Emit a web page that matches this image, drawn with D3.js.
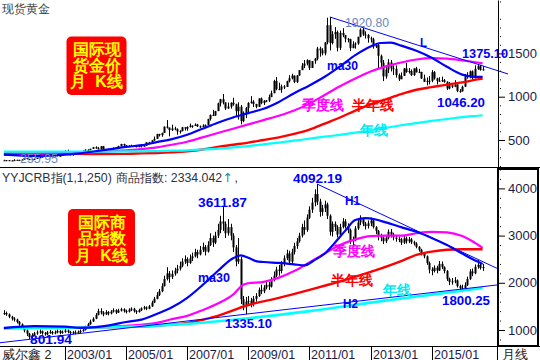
<!DOCTYPE html>
<html><head><meta charset="utf-8">
<script src="https://cdn.jsdelivr.net/npm/d3@7/dist/d3.min.js"></script>
<style>body{margin:0;background:#fff}svg{display:block}text{font-family:"Liberation Sans",Arial,sans-serif}</style>
</head><body>
<svg id="c" width="540" height="360"></svg>
<script>
// ---------- DATA ----------
const startYear = 2001, monthCount = 189;
const months = d3.range(monthCount).map(i => `${startYear + Math.floor(i / 12)}/${String(i % 12 + 1).padStart(2, "0")}`);
const tickLabels = ["2003/01", "2005/01", "2007/01", "2009/01", "2011/01", "2013/01", "2015/01"];

// Spot gold, monthly
const goldClose = [
265.6,266.7,257.7,263.2,267.5,270.6,265.9,273.0,293.1,278.8,275.5,276.5,
282.3,296.9,301.4,308.2,326.6,318.5,304.7,312.8,323.7,316.9,317.1,347.2,
367.5,347.5,334.9,336.8,361.4,346.0,354.8,375.6,388.0,386.3,398.4,416.3,
402.8,396.8,427.3,388.5,393.3,395.8,391.4,408.3,415.7,428.3,453.4,438.0,
422.2,434.0,428.9,435.7,417.3,437.1,429.0,433.3,473.3,470.8,495.7,513.0,
568.8,556.0,582.0,654.5,643.0,613.5,632.5,623.5,599.3,603.8,646.7,632.0,
650.5,665.3,661.8,677.0,657.5,650.5,665.5,672.0,743.0,789.5,783.5,833.8,
923.3,971.5,933.5,864.5,885.8,930.3,912.5,833.0,884.5,718.5,814.5,869.8,
927.3,942.0,916.5,883.3,979.5,926.0,954.0,955.5,995.8,1040.0,1182.0,1087.5,
1083.0,1118.3,1113.3,1179.3,1212.5,1244.0,1169.0,1246.0,1307.0,1357.0,1383.5,1421.0,
1332,1411,1439,1556,1536,1500,1628,1826,1620,1722,1746,1565,
1737,1710,1669,1664,1561,1604,1614,1692,1776,1719,1713,1675,
1663,1578,1597,1472,1393,1234,1313,1396,1327,1323,1250,1202,
1240,1326,1284,1296,1250,1327,1282,1287,1210,1171,1182,1184,
1283,1212,1183,1184,1190,1172,1095,1134,1115,1142,1065,1061,
1116,1238,1233,1293,1215,1322,1351,1309,1316];
const goldHigh = [
272,268,268,264,278,272,271,278,294,293,282,280,
284,299,304,311,328,331,327,314,326,326,324,349,
383,389,352,340,372,366,367,378,391,392,399,417,
427,419,429,431,396,397,408,416,419,434,456,457,
442,439,446,438,436,442,431,449,474,479,497,540,
572,571,584,654,730,634,677,653,634,613,651,648,
657,690,669,692,686,667,682,679,745,795,848,837,
931,975,1032,931,932,934,988,919,935,904,830,881,
937,1006,960,917,981,990,960,961,1024,1070,1195,1227,
1162,1140,1134,1184,1249,1265,1244,1250,1308,1388,1424,1432,
1424,1411,1448,1576,1577,1560,1632,1912,1920.8,1757,1804,1764,
1764,1791,1714,1677,1670,1640,1628,1692,1790,1796,1755,1723,
1694,1681,1617,1611,1487,1424,1347,1434,1424,1361,1361,1268,
1280,1332,1392,1331,1315,1326,1345,1322,1287,1255,1222,1238,
1307,1296,1219,1224,1232,1205,1178,1170,1156,1191,1142,1088,
1127,1263,1283,1303,1304,1362,1375.1,1367,1352];
const goldLow = [
262,258,256,255.95,263,265,264,265,270,277,272,273,
276,281,289,301,306,313,302,300,311,312,316,316,
344,345,321,320,339,342,342,351,368,369,378,397,
399,392,391,371,377,387,388,389,402,411,426,431,
418,418,424,423,415,417,414,426,433,459,460,489,
515,540,537,582,633,542,605,612,560,575,599,609,
607,643,640,661,651,640,648,648,672,724,778,779,
836,887,911,847,861,863,896,774,736,681,705,753,
803,919,880,866,884,913,905,938,939,1003,1044,1075,
1076,1045,1088,1118,1165,1200,1157,1157,1241,1315,1331,1361,
1308,1331,1380,1420,1462,1478,1478,1605,1535,1604,1669,1523,
1540,1688,1628,1628,1527,1564,1555,1600,1686,1703,1672,1625,
1626,1555,1562,1321,1338,1180,1208,1272,1292,1251,1221,1182,
1202,1240,1277,1268,1240,1240,1280,1272,1205,1183,1131,1142,
1167,1197,1142,1175,1170,1162,1077,1085,1099,1111,1053,1046.2,
1061,1111,1208,1212,1199,1208,1310,1301,1302];

// Commodity index (YYJCRB), monthly
const crbClose = [
1360,1330,1280,1240,1220,1170,1120,1060,990,920,850,890,
930,950,970,930,910,950,960,930,950,980,940,960,
990,960,930,950,940,960,980,1000,1060,1120,1180,1240,
1320,1400,1370,1330,1380,1350,1390,1420,1370,1410,1440,1400,
1390,1430,1450,1400,1380,1420,1460,1480,1450,1500,1580,1660,
1740,1820,1930,2080,2200,2120,2190,2260,2300,2360,2450,2500,
2420,2520,2560,2650,2600,2700,2760,2660,2800,2950,2850,3000,
3120,3300,3250,3050,3180,3000,2750,2450,2500,1650,1530,1600,
1620,1560,1660,1720,1850,1820,1900,1960,1920,2060,2150,2280,
2250,2400,2520,2620,2450,2650,2780,2880,3000,3180,3120,3380,
3550,3700,3880,3720,3500,3580,3660,3420,3080,3250,3180,3020,
3180,3300,3200,3120,2880,2900,3150,3280,3350,3250,3200,3260,
3320,3180,3100,2980,2960,2880,2950,3080,3020,2960,2930,2920,
2850,2940,2880,2920,2860,2830,2760,2700,2620,2560,2420,2280,
2250,2320,2260,2400,2330,2250,2080,2020,2030,2050,1930,1890,
1880,1950,2080,2240,2200,2340,2380,2310,2334.042];
const crbHigh = [
1420,1390,1350,1300,1270,1240,1190,1140,1080,1010,940,930,
960,990,1010,990,960,980,1000,980,990,1010,1000,990,
1020,1010,980,980,990,990,1010,1040,1090,1150,1220,1270,
1360,1450,1460,1400,1420,1400,1420,1460,1440,1450,1470,1460,
1430,1460,1480,1470,1420,1450,1480,1510,1500,1530,1620,1700,
1800,1870,1990,2150,2330,2250,2260,2320,2380,2450,2520,2580,
2540,2600,2640,2720,2700,2780,2850,2800,2880,3050,3000,3080,
3250,3420,3611.87,3300,3350,3250,3050,2800,2950,2550,1720,1700,
1720,1680,1720,1780,1900,1960,1950,2050,2020,2120,2240,2340,
2380,2460,2580,2700,2680,2720,2850,2950,3060,3250,3320,3450,
3620,3800,3980,4092.19,3780,3650,3740,3700,3450,3300,3300,3220,
3250,3370,3350,3260,3150,2980,3200,3340,3430,3380,3290,3320,
3380,3360,3200,3120,3040,3000,3000,3130,3140,3060,3000,2980,
2950,2990,2980,2970,2950,2890,2860,2780,2720,2650,2580,2450,
2330,2370,2360,2460,2450,2350,2270,2110,2100,2120,2070,1960,
1960,2010,2130,2290,2300,2390,2480,2420,2400];
const crbLow = [
1320,1300,1250,1200,1180,1140,1090,1020,950,870,801.94,830,
870,900,920,900,880,890,920,900,910,930,910,920,
940,930,900,910,910,920,930,960,990,1050,1110,1170,
1230,1310,1330,1290,1320,1310,1330,1370,1340,1360,1390,1370,
1350,1370,1400,1370,1340,1370,1400,1430,1420,1440,1490,1570,
1650,1720,1800,1920,2050,2000,2080,2150,2200,2260,2330,2400,
2350,2400,2460,2540,2520,2580,2650,2580,2640,2780,2760,2820,
2950,3050,3100,2950,3000,2900,2650,2350,2400,1550,1420,1335.10,
1520,1480,1500,1600,1700,1760,1780,1860,1850,1900,2030,2120,
2150,2200,2350,2480,2380,2420,2600,2720,2850,2960,3020,3080,
3350,3480,3620,3650,3400,3420,3500,3350,3000,2980,3100,2960,
3000,3150,3150,3050,2820,2780,2880,3120,3220,3200,3130,3150,
3200,3150,3030,2900,2880,2820,2840,2920,2960,2900,2870,2860,
2800,2820,2830,2840,2820,2790,2730,2660,2580,2520,2380,2200,
2160,2220,2200,2250,2290,2200,2040,1950,1960,1990,1900,1850,
1800.25,1850,1930,2060,2140,2180,2300,2280,2250];

// Moving-average lines: [month index, value]
const goldMa30 = [[0,330],[12,315],[24,330],[30,345],[36,370],[42,395],[48,420],[54,440],[60,475],[66,510],[72,560],[78,630],[84,700],[90,760],[96,810],[102,860],[108,940],[114,1040],[120,1130],[126,1230],[132,1350],[138,1480],[144,1580],[148,1620],[152,1625],[156,1590],[162,1530],[168,1450],[174,1345],[180,1255],[184,1232],[188,1228]];
const goldMa60 = [[0,330],[12,340],[24,350],[36,360],[42,370],[48,380],[54,395],[60,415],[66,445],[72,480],[78,530],[84,580],[90,630],[96,680],[102,730],[108,780],[114,840],[120,920],[126,1020],[132,1120],[138,1210],[144,1290],[150,1350],[156,1395],[162,1430],[168,1445],[174,1440],[180,1420],[186,1395],[188,1385]];
const goldMa120 = [[0,345],[12,343],[24,340],[36,338],[48,340],[54,345],[60,350],[66,358],[72,370],[78,390],[84,420],[90,445],[96,470],[102,500],[108,530],[114,570],[120,620],[126,690],[132,760],[138,840],[144,910],[150,970],[156,1030],[162,1080],[168,1110],[174,1140],[180,1165],[186,1200],[188,1210]];
const goldMa250 = [[0,365],[24,365],[36,366],[48,368],[60,372],[66,376],[72,381],[78,390],[84,400],[90,414],[96,430],[102,450],[108,470],[114,492],[120,515],[126,538],[132,560],[138,585],[144,610],[150,640],[156,670],[162,695],[168,720],[174,742],[180,765],[186,780],[188,785]];

const crbMa30 = [[0,1040],[12,1080],[24,1070],[30,1045],[36,1060],[42,1105],[48,1170],[54,1220],[60,1340],[66,1480],[72,1680],[78,1950],[84,2250],[90,2520],[93,2580],[96,2530],[99,2460],[102,2440],[108,2420],[114,2390],[118,2370],[122,2480],[126,2620],[130,2850],[134,3100],[138,3330],[142,3370],[146,3340],[150,3280],[156,3180],[162,3080],[168,2950],[174,2800],[180,2620],[186,2450],[188,2400]];
const crbMa60 = [[0,1045],[12,1050],[24,1050],[30,1055],[36,1060],[48,1090],[60,1150],[66,1230],[72,1300],[78,1420],[84,1560],[90,1750],[94,1960],[96,1990],[102,2020],[108,2110],[114,2250],[120,2430],[126,2620],[132,2800],[138,2920],[144,2990],[150,3000],[156,3000],[162,3050],[168,3080],[174,3070],[180,2990],[184,2880],[188,2740]];
const crbMa120 = [[0,1040],[24,1050],[48,1070],[60,1090],[72,1150],[84,1300],[96,1530],[108,1680],[120,1850],[132,2030],[144,2230],[156,2460],[162,2590],[168,2660],[174,2700],[180,2710],[188,2710]];
const crbMa250 = [[0,1040],[24,1050],[48,1070],[72,1130],[96,1250],[120,1400],[144,1580],[168,1750],[188,1890]];

// Trend-line anchors [month index, value]
const goldL = [[128, 1920.8], [186, 1375.1]];
const crbH1 = [[123, 4092.19], [186, 2500]];
const crbH2 = [[10, 801.94], [95, 1335.10]];

// ---------- CHART ----------
const svg = d3.select("#c");
const W = 540, AX = 498;
const xi = d3.scaleLinear().domain([0, monthCount - 1]).range([3.9, 482.6]);
const yTop = d3.scaleLinear().domain([188, 2117]).range([167, 0]);
const yBot = d3.scaleLinear().domain([661, 4432]).range([346, 168]);

const defs = svg.append("defs");
defs.append("clipPath").attr("id", "cTop").append("rect").attr("x", 0).attr("y", 0).attr("width", AX).attr("height", 167);
defs.append("clipPath").attr("id", "cBot").append("rect").attr("x", 0).attr("y", 168).attr("width", AX).attr("height", 178);

function candles(g, close, high, low, y) {
  const data = close.map((c, i) => {
    const o = i > 0 ? close[i - 1] : c;
    return { i, o, c, h: Math.max(high[i], o, c), l: Math.min(low[i], o, c) };
  });
  g.selectAll("line.w").data(data).join("line").attr("class", "w")
    .attr("x1", d => Math.round(xi(d.i)) + 0.5).attr("x2", d => Math.round(xi(d.i)) + 0.5)
    .attr("y1", d => y(d.h)).attr("y2", d => y(d.l)).attr("stroke", "#000").attr("stroke-width", 1);
  g.selectAll("rect.b").data(data).join("rect").attr("class", "b")
    .attr("x", d => Math.round(xi(d.i)) - 0.5).attr("width", 2)
    .attr("y", d => y(Math.max(d.o, d.c)))
    .attr("height", d => Math.max(1, Math.abs(y(d.o) - y(d.c))))
    .attr("fill", "#000");
}

function maLine(g, pts, y, color, w) {
  const line = d3.line().x(d => xi(d[0])).y(d => y(d[1])).curve(d3.curveMonotoneX);
  g.append("path").datum(pts).attr("d", line).attr("fill", "none").attr("stroke", color).attr("stroke-width", w).attr("stroke-linejoin", "round");
}

function trend(g, anchors, y, i0, i1) {
  const [[a, va], [b, vb]] = anchors;
  const v = i => va + (i - a) * (vb - va) / (b - a);
  g.append("line").attr("x1", xi(i0)).attr("y1", y(v(i0))).attr("x2", xi(i1)).attr("y2", y(v(i1)))
    .attr("stroke", "#0000ff").attr("stroke-width", 1);
}

// --- top panel ---
const gTop = svg.append("g").attr("clip-path", "url(#cTop)");
candles(gTop, goldClose, goldHigh, goldLow, yTop);
maLine(gTop, goldMa120, yTop, "#ff0000", 2.4);
maLine(gTop, goldMa60, yTop, "#ff00ff", 2.2);
maLine(gTop, goldMa250, yTop, "#00ffff", 2.2);
maLine(gTop, goldMa30, yTop, "#0000ff", 2.2);
trend(svg, goldL, yTop, goldL[0][0], xi.invert(508));

// --- bottom panel ---
const gBot = svg.append("g").attr("clip-path", "url(#cBot)");
candles(gBot, crbClose, crbHigh, crbLow, yBot);
maLine(gBot, crbMa120, yBot, "#ff0000", 2.4);
maLine(gBot, crbMa60, yBot, "#ff00ff", 2.2);
maLine(gBot, crbMa250, yBot, "#00ffff", 2.6);
maLine(gBot, crbMa30, yBot, "#0000ff", 2.2);
trend(gBot, crbH1, yBot, crbH1[0][0], xi.invert(AX));
trend(gBot, crbH2, yBot, xi.invert(0), xi.invert(AX));

// --- axes ---
const axisColor = "#1c1c48";
function yAxis(scale, major, minor) {
  const g = svg.append("g").attr("transform", `translate(${AX},0)`);
  g.call(d3.axisRight(scale).tickValues(major).tickSize(7).tickSizeOuter(0).tickPadding(3).tickFormat(d3.format("d")));
  g.selectAll("text").attr("font-size", 13).attr("fill", axisColor).attr("font-family", "Liberation Sans, Arial, sans-serif");
  g.selectAll("line").attr("stroke", "#000");
  g.select(".domain").attr("stroke", "#000");
  const m = svg.append("g").attr("transform", `translate(${AX},0)`);
  m.call(d3.axisRight(scale).tickValues(minor).tickSize(3).tickSizeOuter(0).tickFormat(""));
  m.select(".domain").remove();
  m.selectAll("line").attr("x1", 2).attr("x2", 3).attr("stroke", "#000");
}
yAxis(yTop, [500, 1000, 1500], d3.range(200, 2101, 100).filter(v => v % 500));
yAxis(yBot, [1000, 2000, 3000, 4000], d3.range(800, 4401, 200).filter(v => v % 1000));

// frame lines
svg.append("line").attr("x1", 0).attr("x2", W).attr("y1", 167.5).attr("y2", 167.5).attr("stroke", "#000");
svg.append("line").attr("x1", 0).attr("x2", W).attr("y1", 346.5).attr("y2", 346.5).attr("stroke", "#000");
svg.append("rect").attr("x", AX).attr("y", 169).attr("width", 40).attr("height", 177).attr("fill", "none").attr("stroke", "#000").attr("stroke-width", 2);

// x-axis row
const xr = svg.append("g");
tickLabels.forEach(t => {
  const x = Math.round(xi(months.indexOf(t))) + 0.5;
  xr.append("line").attr("x1", x).attr("x2", x).attr("y1", 346).attr("y2", 360).attr("stroke", "#000");
  xr.append("text").attr("x", x + 1.5).attr("y", 358.5).attr("font-size", 12.5).attr("fill", axisColor).text(t);
});
xr.append("line").attr("x1", AX - 0.5).attr("x2", AX - 0.5).attr("y1", 346).attr("y2", 360).attr("stroke", "#000");
xr.append("text").attr("x", 2).attr("y", 358.5).attr("font-size", 12.5).attr("fill", "#202020").attr("font-family", "Noto Sans CJK SC, sans-serif").text("威尔鑫 2");
xr.append("text").attr("x", 502).attr("y", 358.5).attr("font-size", 12.5).attr("fill", "#202020").attr("font-family", "Noto Sans CJK SC, sans-serif").text("月线");

// titles
svg.append("text").attr("x", 2).attr("y", 13).attr("font-size", 12).attr("fill", "#404040").attr("font-family", "Noto Sans CJK SC, sans-serif").text("现货黄金");
const hdr = svg.append("text").attr("y", 181.5).attr("font-size", 12.3).attr("fill", "#303040").attr("font-family", "Liberation Sans, Noto Sans CJK SC, sans-serif");
hdr.append("tspan").attr("x", 2).text("YYJCRB指(1,1,250)");
hdr.append("tspan").attr("x", 116).text("商品指数: " + crbClose[crbClose.length - 1].toFixed(3));
hdr.append("tspan").attr("fill", "#1a8aa8").attr("font-family", "DejaVu Sans").text("↑");
hdr.append("tspan").attr("dx", 2).text(",");

// red boxes
function badge(x, y, w, h, lines, base) {
  svg.append("rect").attr("x", x).attr("y", y).attr("width", w).attr("height", h).attr("rx", 5).attr("fill", "#ff0000");
  lines.forEach((t, k) => svg.append("text").attr("x", x + w / 2).attr("y", base + k * 16.3)
    .attr("text-anchor", "middle").attr("font-size", 16).attr("font-weight", "bold").attr("fill", "#ffff00")
    .attr("font-family", "Noto Sans CJK SC, sans-serif").style("white-space", "pre").text(t));
}
badge(66.5, 36.5, 60, 58.5, ["国际现", "货金价", "月  K线"], 54.5);
badge(68, 209, 67, 57, ["国际商", "品指数", "月  K线"], 228);

// annotations
function num(t, x, y, w, anchor, color, bold) {
  svg.append("text").attr("x", x).attr("y", y).attr("text-anchor", anchor || "middle")
    .attr("font-family", "Liberation Mono, monospace").attr("font-size", 13).attr("font-weight", bold === false ? "normal" : "bold")
    .attr("fill", color || "#0000ff").attr("textLength", w).attr("lengthAdjust", "spacingAndGlyphs").text(t);
}
function cn(t, x, y, color) {
  svg.append("text").attr("x", x).attr("y", y).attr("font-family", "Noto Sans CJK SC, sans-serif")
    .attr("font-size", 14).attr("font-weight", "bold").attr("fill", color).text(t);
}
const fmt = d3.format(".2f");
// top
num(fmt(d3.max(goldHigh)), 345, 27, 44, "start", "#6a86c0", false);
num(fmt(d3.min(goldLow)), 20, 163, 38, "start", "#6a86c0", false);
num(fmt(goldHigh[186]), 485, 58, 46);
num(fmt(goldLow[179]), 461, 107, 48);
num("ma30", 327, 70, 31, "start");
num("L", 420, 47, 7, "start");
cn("季度线", 302, 110, "#ff00ff");
cn("半年线", 352, 110, "#ff0000");
cn("年线", 360, 135, "#00e8f0");
// bottom
num(fmt(crbHigh[123]), 317.5, 183, 49);
num(fmt(crbHigh[86]), 222.5, 207, 49);
num("H1", 345, 205, 15, "start");
num("ma30", 198, 282, 32, "start");
cn("季度线", 333, 256, "#ff00ff");
cn("半年线", 331, 285, "#ff0000");
cn("年线", 383, 295, "#00e8f0");
num("H2", 343, 308, 15, "start");
num(fmt(crbLow[95]), 248.5, 328, 47);
num(fmt(crbLow[180]), 466, 305, 48);
const g801 = svg.append("g").attr("clip-path", "url(#cBot)");
g801.append("text").attr("x", 51).attr("y", 344).attr("text-anchor", "middle").attr("font-family", "Liberation Mono, monospace")
  .attr("font-size", 12).attr("font-weight", "bold").attr("fill", "#0000ff").attr("textLength", 42).attr("lengthAdjust", "spacingAndGlyphs")
  .text(fmt(d3.min(crbLow)));
</script>
</body></html>
